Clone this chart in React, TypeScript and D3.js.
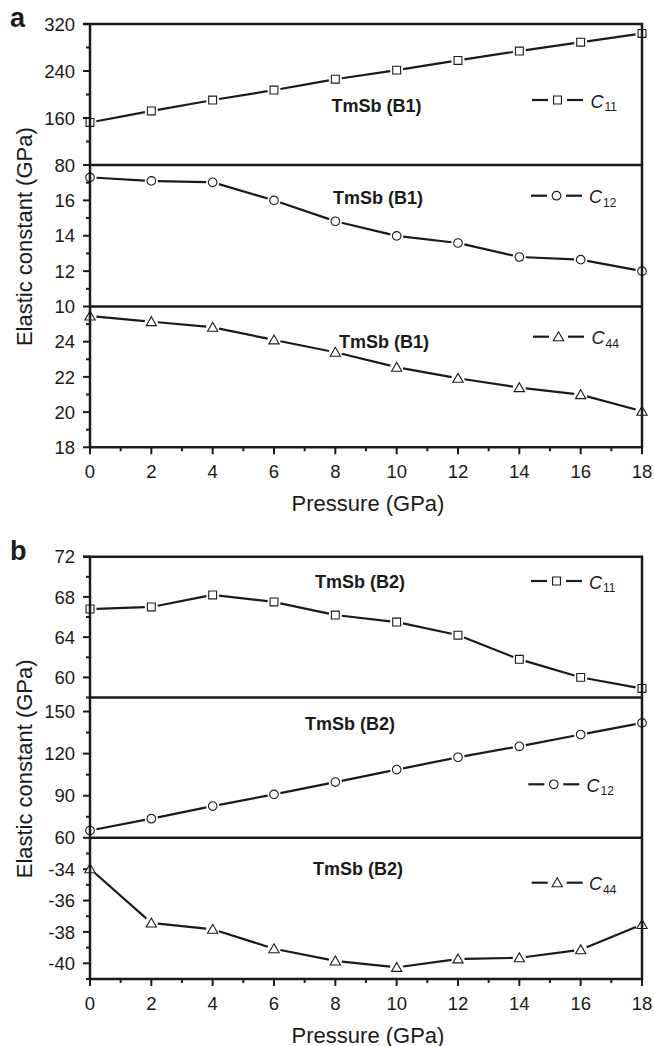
import React, { useEffect, useRef } from 'react';
import * as d3 from 'd3';

// ---------- data ----------
const pressure = [0, 2, 4, 6, 8, 10, 12, 14, 16, 18];
const b1C11 = [152.5, 172, 190.5, 207.5, 226, 241.5, 258, 274, 289, 304];
const b1C12 = [17.3, 17.1, 17.02, 16.0, 14.82, 13.99, 13.59, 12.8, 12.65, 12.0];
const b1C44 = [25.46, 25.14, 24.82, 24.1, 23.4, 22.55, 21.92, 21.39, 20.99, 20.05];
const b2C11 = [66.8, 67.0, 68.2, 67.5, 66.2, 65.5, 64.2, 61.8, 60.0, 58.9];
const b2C12 = [65.2, 73.6, 82.6, 90.9, 99.7, 108.6, 117.4, 125.2, 133.6, 141.9];
const b2C44 = [-33.97, -37.43, -37.83, -39.07, -39.85, -40.26, -39.72, -39.65, -39.14, -37.53];

const xMajor = [0, 2, 4, 6, 8, 10, 12, 14, 16, 18];
const xMinor = [1, 3, 5, 7, 9, 11, 13, 15, 17];

const b1C11Major = [80, 160, 240, 320];
const b1C11Minor = [120, 200, 280];
const b1C12Major = [10, 12, 14, 16];
const b1C12Minor = [11, 13, 15, 17];
const b1C44Major = [18, 20, 22, 24];
const b1C44Minor = [19, 21, 23, 25];
const b2C11Major = [60, 64, 68, 72];
const b2C11Minor = [58, 62, 66, 70];
const b2C12Major = [60, 90, 120, 150];
const b2C12Minor = [75, 105, 135];
const b2C44Major = [-40, -38, -36, -34];
const b2C44Minor = [-41, -39, -37, -35, -33];

const panelLabels = ['a', 'b'];
const phaseNames = ['TmSb (B1)', 'TmSb (B2)'];
const constSubs = ['11', '12', '44'];
const xTitle = 'Pressure (GPa)';
const yTitle = 'Elastic constant (GPa)';

// ---------- layout ----------
const X0 = 90, X1 = 642;
const FONT = '"Liberation Sans", Arial, Helvetica, sans-serif';

type Sub = {
  values: number[]; domain: [number, number]; major: number[]; minor: number[];
  y0: number; y1: number; sym: d3.SymbolType; symSize: number; sub: string; phase: string;
  note: [number, number]; leg: [number, number, number];
};

const panels = [
  {
    label: panelLabels[0], labelPos: [10, 27], titleY: 447.3,
    subs: [
      { values: b1C11, domain: [80, 320], major: b1C11Major, minor: b1C11Minor, y0: 24, y1: 165, sym: d3.symbolSquare, symSize: 62, sub: constSubs[0], phase: phaseNames[0], note: [331.5, 112], leg: [532, 100, 590.5] },
      { values: b1C12, domain: [10, 18], major: b1C12Major, minor: b1C12Minor, y0: 165, y1: 306.5, sym: d3.symbolCircle, symSize: 58, sub: constSubs[1], phase: phaseNames[0], note: [333, 204], leg: [531, 195.7, 589] },
      { values: b1C44, domain: [18, 26], major: b1C44Major, minor: b1C44Minor, y0: 306.5, y1: 447.3, sym: d3.symbolTriangle, symSize: 46, sub: constSubs[2], phase: phaseNames[0], note: [339, 348], leg: [533, 336.7, 591.5] },
    ] as Sub[],
  },
  {
    label: panelLabels[1], labelPos: [10, 560], titleY: 979,
    subs: [
      { values: b2C11, domain: [58, 72], major: b2C11Major, minor: b2C11Minor, y0: 556.7, y1: 697.5, sym: d3.symbolSquare, symSize: 62, sub: constSubs[0], phase: phaseNames[1], note: [315, 588], leg: [531, 581, 589] },
      { values: b2C12, domain: [60, 160], major: b2C12Major, minor: b2C12Minor, y0: 697.5, y1: 837.8, sym: d3.symbolCircle, symSize: 58, sub: constSubs[1], phase: phaseNames[1], note: [305, 730], leg: [528.3, 784.3, 586.5] },
      { values: b2C44, domain: [-41, -32], major: b2C44Major, minor: b2C44Minor, y0: 837.8, y1: 979, sym: d3.symbolTriangle, symSize: 46, sub: constSubs[2], phase: phaseNames[1], note: [313, 875], leg: [531.7, 882.7, 589] },
    ] as Sub[],
  },
];

export default function App() {
  const ref = useRef<SVGSVGElement | null>(null);

  useEffect(() => {
    const svg = d3.select(ref.current);
    svg.selectAll('*').remove();
    const ink = '#1a1a1a';
    const x = d3.scaleLinear().domain([0, 18]).range([X0, X1]);

    panels.forEach((p) => {
      const g = svg.append('g');
      const top = p.subs[0].y0;
      const bottom = p.subs[p.subs.length - 1].y1;

      p.subs.forEach((s) => {
        const y = d3.scaleLinear().domain(s.domain).range([s.y1, s.y0]);
        // y ticks
        s.major.forEach((v) => {
          const yy = y(v);
          g.append('line').attr('x1', X0 - 7).attr('x2', X0).attr('y1', yy).attr('y2', yy)
            .attr('stroke', ink).attr('stroke-width', 2);
          g.append('text').attr('x', 75).attr('y', yy).attr('dy', '0.36em')
            .attr('text-anchor', 'end').attr('font-family', FONT).attr('font-size', 18.5)
            .attr('fill', ink).text(String(v));
        });
        s.minor.forEach((v) => {
          const yy = y(v);
          g.append('line').attr('x1', X0 - 4).attr('x2', X0).attr('y1', yy).attr('y2', yy)
            .attr('stroke', ink).attr('stroke-width', 2);
        });
        // bottom border of each sub
        g.append('line').attr('x1', X0).attr('x2', X1 + 1).attr('y1', s.y1).attr('y2', s.y1)
          .attr('stroke', ink).attr('stroke-width', 2.5);

        // line segments with gap to symbol
        const pts = pressure.map((pv, i) => [x(pv), y(s.values[i])] as [number, number]);
        const gap = 6.5;
        for (let i = 0; i < pts.length - 1; i++) {
          const [ax, ay] = pts[i];
          const [bx, by] = pts[i + 1];
          const len = Math.hypot(bx - ax, by - ay);
          const ux = (bx - ax) / len, uy = (by - ay) / len;
          g.append('line')
            .attr('x1', ax + ux * gap).attr('y1', ay + uy * gap)
            .attr('x2', bx - ux * gap).attr('y2', by - uy * gap)
            .attr('stroke', ink).attr('stroke-width', 2.2);
        }
        const sym = d3.symbol().type(s.sym).size(s.symSize);
        g.selectAll(null).data(pts).enter().append('path')
          .attr('d', sym() as string)
          .attr('transform', (d) => `translate(${d[0]},${d[1] + (s.sym === d3.symbolTriangle ? 1 : 0)})`)
          .attr('fill', '#fff').attr('stroke', ink).attr('stroke-width', 1.1);

        // annotation
        g.append('text').attr('x', s.note[0]).attr('y', s.note[1])
          .attr('font-family', FONT).attr('font-size', 18).attr('font-weight', 'bold')
          .attr('fill', ink).text(s.phase);

        // legend
        const [lx, ly, tx] = s.leg;
        g.append('line').attr('x1', lx).attr('x2', lx + 16).attr('y1', ly).attr('y2', ly)
          .attr('stroke', ink).attr('stroke-width', 2.2);
        g.append('line').attr('x1', lx + 35).attr('x2', lx + 51).attr('y1', ly).attr('y2', ly)
          .attr('stroke', ink).attr('stroke-width', 2.2);
        g.append('path').attr('d', sym() as string)
          .attr('transform', `translate(${lx + 25.5},${ly + (s.sym === d3.symbolTriangle ? 1 : 0)})`)
          .attr('fill', '#fff').attr('stroke', ink).attr('stroke-width', 1.1);
        const t = g.append('text').attr('x', tx).attr('y', ly + 7.5)
          .attr('font-family', FONT).attr('fill', ink);
        t.append('tspan').attr('font-size', 18).attr('font-style', 'italic').text('C');
        t.append('tspan').attr('font-size', 12).attr('dy', 3.5).attr('dx', 1).text(s.sub);
      });

      // frame: left, right, top
      g.append('line').attr('x1', X0).attr('x2', X0).attr('y1', top - 1).attr('y2', bottom + 1)
        .attr('stroke', ink).attr('stroke-width', 2.5);
      g.append('line').attr('x1', X1).attr('x2', X1).attr('y1', top - 1).attr('y2', bottom + 1)
        .attr('stroke', ink).attr('stroke-width', 2.5);
      g.append('line').attr('x1', X0 - 7).attr('x2', X1 + 1).attr('y1', top).attr('y2', top)
        .attr('stroke', ink).attr('stroke-width', 2.5);

      // x ticks
      xMajor.forEach((v) => {
        g.append('line').attr('x1', x(v)).attr('x2', x(v)).attr('y1', bottom).attr('y2', bottom + 7)
          .attr('stroke', ink).attr('stroke-width', 2);
        g.append('text').attr('x', x(v)).attr('y', bottom + 30.5).attr('text-anchor', 'middle')
          .attr('font-family', FONT).attr('font-size', 18.5).attr('fill', ink).text(String(v));
      });
      xMinor.forEach((v) => {
        g.append('line').attr('x1', x(v)).attr('x2', x(v)).attr('y1', bottom).attr('y2', bottom + 4)
          .attr('stroke', ink).attr('stroke-width', 2);
      });

      // titles
      g.append('text').attr('x', 368).attr('y', bottom + 63.5).attr('text-anchor', 'middle')
        .attr('font-family', FONT).attr('font-size', 22).attr('fill', ink).text(xTitle);
      g.append('text').attr('transform', `translate(32,${(top + bottom) / 2 + 1}) rotate(-90)`)
        .attr('text-anchor', 'middle').attr('font-family', FONT).attr('font-size', 22)
        .attr('fill', ink).text(yTitle);

      g.append('text').attr('x', p.labelPos[0]).attr('y', p.labelPos[1])
        .attr('font-family', FONT).attr('font-size', 27).attr('font-weight', 'bold')
        .attr('fill', ink).text(p.label);
    });
  }, []);

  return (
    <svg
      ref={ref}
      width={654}
      height={1046}
      style={{ position: 'absolute', left: 0, top: 0, background: '#fff' }}
    />
  );
}
